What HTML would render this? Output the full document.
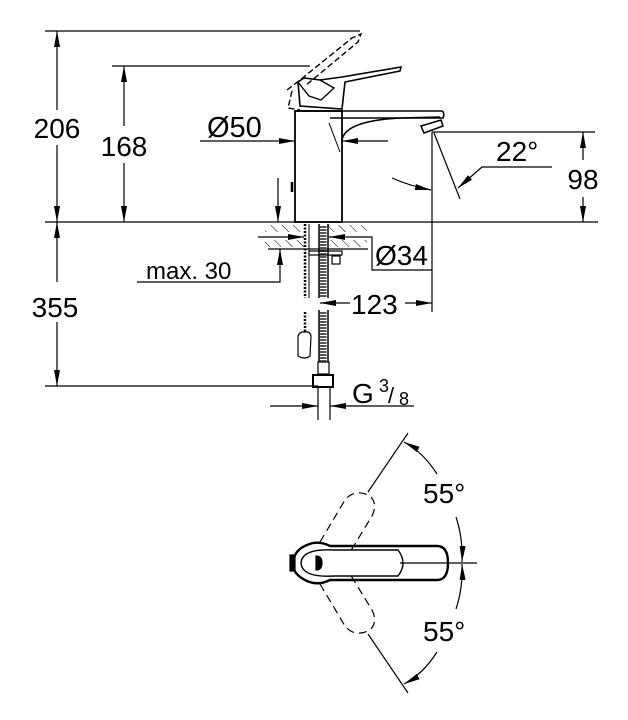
<!DOCTYPE html>
<html><head><style>body{margin:0;background:#fff}svg{display:block}text{font-family:"Liberation Sans",sans-serif;fill:#000}</style></head><body>
<svg width="628" height="720" viewBox="0 0 628 720" xmlns="http://www.w3.org/2000/svg">
<defs>
<marker id="a" viewBox="0 0 16 6" refX="16" refY="3" markerWidth="16" markerHeight="6" markerUnits="userSpaceOnUse" orient="auto-start-reverse"><path d="M0,0 L16,3 L0,6z" fill="#000"/></marker>
<pattern id="h" width="8" height="8" patternUnits="userSpaceOnUse" patternTransform="rotate(-45)"><line x1="0" y1="0" x2="0" y2="8" stroke="#000" stroke-width="1"/></pattern>
</defs>
<g stroke="#000" stroke-width="1.2" fill="none">
<line x1="45" y1="31" x2="360" y2="31"/>
<line x1="112" y1="66" x2="310" y2="66"/>
<line x1="45" y1="222" x2="598" y2="222"/>
<line x1="45" y1="386" x2="318" y2="386"/>
<line x1="432" y1="132" x2="595" y2="132"/>
<line x1="57" y1="31" x2="57" y2="110" marker-start="url(#a)"/>
<line x1="57" y1="145" x2="57" y2="222" marker-end="url(#a)"/>
<line x1="57" y1="222" x2="57" y2="282" marker-start="url(#a)"/>
<line x1="57" y1="322" x2="57" y2="386" marker-end="url(#a)"/>
<line x1="124" y1="66" x2="124" y2="126" marker-start="url(#a)"/>
<line x1="124" y1="163" x2="124" y2="222" marker-end="url(#a)"/>
<line x1="583" y1="132" x2="583" y2="160" marker-start="url(#a)"/>
<line x1="583" y1="197" x2="583" y2="222" marker-end="url(#a)"/>
<rect x="295" y="111" width="47" height="111" stroke-width="1.8"/>
<path d="M295,111 L442,111 Q445,113 443,118 L330,118" stroke-width="1.6"/>
<path d="M342,140 Q345,121 400,118 L440,117" stroke-width="1.6"/>
<path d="M421,126 L441,120 L443,126 L424,133 Z" stroke-width="1.5"/>
<line x1="329" y1="123" x2="340" y2="152" stroke-width="1"/>
<path d="M300,106 L298,82 L304,78 L320,80 L342,77 L401,67 L400,71 L345,82 L342,109 Z" stroke-width="1.6"/>
<path d="M298,82 L309,96 L321,100 L334,88 L320,80" stroke-width="1.4"/>
<path d="M287,90 L300,80 L352,38 L361,34 L358,42 L305,86 M292,91 L288,108 L300,110" stroke-dasharray="6,3" stroke-width="1.4"/>
<line x1="292" y1="182" x2="292" y2="192" stroke-width="2.5"/>
<line x1="432" y1="132" x2="432" y2="312"/>
<line x1="434" y1="133" x2="460" y2="199"/>
<path d="M552,167 L482,167 L458,188" marker-end="url(#a)"/>
<path d="M392,178 Q410,186 431,190" marker-end="url(#a)"/>
<line x1="200" y1="141" x2="295" y2="141" marker-end="url(#a)"/>
<line x1="388" y1="141" x2="342" y2="141" marker-end="url(#a)"/>
<rect x="265" y="225" width="40" height="7" fill="url(#h)" stroke="none"/>
<rect x="327" y="225" width="40" height="7" fill="url(#h)" stroke="none"/>
<rect x="265" y="240" width="40" height="7" fill="url(#h)" stroke="none"/>
<rect x="327" y="240" width="40" height="7" fill="url(#h)" stroke="none"/>
<line x1="268" y1="249" x2="368" y2="249"/>
<line x1="305" y1="224" x2="305" y2="298" stroke-width="2.5" stroke-dasharray="2,1.5"/>
<line x1="309" y1="224" x2="309" y2="298" stroke-width="1"/>
<path d="M319,224 L319,298 M328,224 L328,298" stroke-width="1.5"/>
<line x1="323" y1="226" x2="323" y2="298" stroke-width="7" stroke="#555" stroke-dasharray="2,1"/>
<rect x="309" y="251" width="33" height="4"/>
<rect x="332" y="256" width="8" height="8"/>
<line x1="305" y1="312" x2="305" y2="333" stroke-width="2.5" stroke-dasharray="2,1.5"/>
<path d="M298,336 Q300,331 305,332 Q310,331 311,336 L310,356 Q305,360 298,356 Z"/>
<path d="M319,310 L319,362 M328,310 L328,362" stroke-width="1.5"/>
<line x1="323" y1="312" x2="323" y2="362" stroke-width="7" stroke="#555" stroke-dasharray="2,1"/>
<rect x="318" y="362" width="11" height="12"/>
<rect x="313" y="375" width="20" height="12" stroke-width="2"/>
<path d="M318,387 L318,420 M330,387 L330,420"/>
<line x1="278" y1="178" x2="278" y2="222" marker-end="url(#a)"/>
<path d="M137,282 L280,282 L280,249" marker-end="url(#a)"/>
<line x1="258" y1="237" x2="304" y2="237" marker-end="url(#a)"/>
<line x1="355" y1="237" x2="329" y2="237" marker-end="url(#a)"/>
<path d="M355,237 L372,237 L372,270 L432,270"/>
<line x1="350" y1="303" x2="320" y2="303" marker-end="url(#a)"/>
<line x1="405" y1="303" x2="432" y2="303" marker-end="url(#a)"/>
<line x1="270" y1="406" x2="318" y2="406" marker-end="url(#a)"/>
<path d="M414,406 L330,406" marker-end="url(#a)"/>
<path d="M307,545 Q318,540 330,546 L437,546 Q448,546 448,563 Q448,580 437,580 L330,580 Q318,586 307,581 Q292,574 293,563 Q294,550 307,545 Z" stroke-width="2.4"/>
<path d="M335,550 L398,550 Q408,563 398,576 L335,576 Q302,578 301,563 Q302,548 335,550 Z" stroke-width="1.4"/>
<rect x="290" y="555" width="5" height="16" fill="#000"/>
<path d="M316,556 Q322,556 322,563 Q322,570 316,570 Z" fill="#000"/>
<line x1="400" y1="563" x2="477" y2="563"/>
<path d="M320,542 L345,500 Q355,488 370,496 Q378,504 372,516 L350,552" stroke-dasharray="8,5"/>
<path d="M320,584 L345,626 Q355,638 370,630 Q378,622 372,610 L350,574" stroke-dasharray="8,5"/>
<line x1="368" y1="492" x2="408" y2="433"/>
<line x1="368" y1="634" x2="408" y2="693"/>
<path d="M437,474 Q423,452 404,442" marker-end="url(#a)"/>
<path d="M456,517 Q463,538 462,562" marker-end="url(#a)"/>
<path d="M456,609 Q463,588 462,564" marker-end="url(#a)"/>
<path d="M437,652 Q423,674 404,684" marker-end="url(#a)"/>
</g>
<g font-size="27">
<text x="57" y="138" text-anchor="middle" style="font-size:28px">206</text>
<text x="124" y="156" text-anchor="middle" style="font-size:28px">168</text>
<text x="55" y="317" text-anchor="middle" style="font-size:28px">355</text>
<text x="207" y="137" style="font-size:29px">Ø50</text>
<text x="496" y="161" style="font-size:28px">22°</text>
<text x="583" y="189" text-anchor="middle" style="font-size:28px">98</text>
<text x="146" y="279" style="font-size:24px">max. 30</text>
<text x="375" y="265" style="font-size:28px">Ø34</text>
<text x="351" y="314" style="font-size:28px">123</text>
<text x="352" y="403" style="font-size:28px">G</text>
<text x="379" y="392" style="font-size:18px">3</text>
<text x="388" y="403" style="font-size:22px">/</text>
<text x="399" y="405" style="font-size:18px">8</text>
<text x="423" y="503" style="font-size:28px">55°</text>
<text x="423" y="641" style="font-size:28px">55°</text>
</g>
</svg>
</body></html>
